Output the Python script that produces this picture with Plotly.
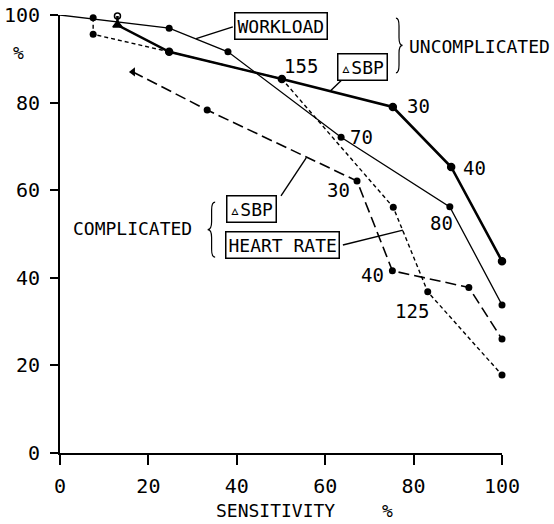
import plotly.graph_objects as go

# Sensitivity (x) vs specificity (y) for the exercise-test criteria
workload_unc_x = [0, 24.7, 38.0, 63.6, 88.2, 100]
workload_unc_y = [100, 97.0, 91.6, 72.1, 56.2, 33.8]

sbp_unc_x = [13.0, 13.0, 24.7, 50.2, 75.3, 88.5, 100]
sbp_unc_y = [99.8, 97.7, 91.6, 85.4, 79.0, 65.3, 43.8]

hr_comp_x = [7.5, 7.5, 24.7, 50.2, 75.4, 83.2, 100]
hr_comp_y = [99.4, 95.6, 91.6, 85.4, 56.1, 36.8, 17.8]

sbp_comp_x = [16.5, 33.3, 67.2, 75.2, 92.5, 100]
sbp_comp_y = [87.0, 78.3, 62.1, 41.6, 37.8, 26.0]

# Threshold labels beside points: (text, x, y)
point_labels = [
    ("155", 54.5, 88.4),
    ("30", 81.0, 79.2),
    ("40", 93.7, 65.1),
    ("70", 68.3, 72.1),
    ("80", 86.2, 52.5),
    ("30", 63.1, 60.0),
    ("40", 70.6, 40.6),
    ("125", 79.6, 32.4),
]

# Boxed series names: (text, x, y)
box_labels = [
    ("WORKLOAD", 49.9, 97.4),
    ("▵SBP", 68.4, 88.1),
    ("▵SBP", 43.4, 55.6),
    ("HEART RATE", 50.3, 47.6),
]

# Leader lines from boxes to curves: (x0, y0, x1, y1)
leaders = [
    (39.1, 97.3, 30.8, 94.6),
    (63.8, 85.2, 61.1, 82.6),
    (50.0, 58.7, 55.7, 67.4),
    (64.0, 47.5, 77.6, 50.9),
]

x_ticks = [0, 20, 40, 60, 80, 100]
y_ticks = [0, 20, 40, 60, 80, 100]

FONT = "DejaVu Sans Mono"
INK = "#000000"
DOT = 7

fig = go.Figure()

fig.add_trace(go.Scatter(
    x=workload_unc_x, y=workload_unc_y, mode="lines+markers",
    line=dict(color=INK, width=1.3),
    marker=dict(color=INK, opacity=1, size=[0] + [DOT] * 5, line=dict(width=0)),
    cliponaxis=False, hoverinfo="skip",
))
fig.add_trace(go.Scatter(
    x=sbp_unc_x, y=sbp_unc_y, mode="lines+markers",
    line=dict(color=INK, width=2.6),
    marker=dict(color=INK, opacity=1, size=[6, 8] + [DOT] * 5,
                symbol=["circle-open", "triangle-up", "circle", "circle",
                        "circle", "circle", "circle"],
                line=dict(color=INK, width=1.5)),
    cliponaxis=False, hoverinfo="skip",
))
fig.add_trace(go.Scatter(
    x=hr_comp_x, y=hr_comp_y, mode="lines+markers",
    line=dict(color=INK, width=1.4, dash="4px,3px"),
    marker=dict(color=INK, opacity=1, size=DOT, line=dict(width=0)),
    cliponaxis=False, hoverinfo="skip",
))
fig.add_trace(go.Scatter(
    x=sbp_comp_x, y=sbp_comp_y, mode="lines+markers",
    line=dict(color=INK, width=1.6, dash="11px,5px"),
    marker=dict(color=INK, opacity=1, size=[8] + [DOT] * 5, line=dict(width=0),
                symbol=["triangle-left", "circle", "circle", "circle",
                        "circle", "circle"]),
    cliponaxis=False, hoverinfo="skip",
))

annotations = []
for txt, x, y in point_labels:
    annotations.append(dict(x=x, y=y, xref="x", yref="y", text=txt,
                            showarrow=False, font=dict(family=FONT, size=19, color=INK),
                            xanchor="center", yanchor="middle"))
for txt, x, y in box_labels:
    annotations.append(dict(x=x, y=y, xref="x", yref="y", text=txt,
                            showarrow=False, font=dict(family=FONT, size=18, color=INK),
                            xanchor="center", yanchor="middle",
                            bordercolor=INK, borderwidth=1.5, borderpad=2,
                            bgcolor="white"))
annotations.append(dict(x=78.4, y=92.7, xref="x", yref="y", text="UNCOMPLICATED",
                        showarrow=False, font=dict(family=FONT, size=18, color=INK),
                        xanchor="left", yanchor="middle"))
annotations.append(dict(x=30.4, y=51.2, xref="x", yref="y", text="COMPLICATED",
                        showarrow=False, font=dict(family=FONT, size=18, color=INK),
                        xanchor="right", yanchor="middle"))
annotations.append(dict(x=-0.095, y=91.5, xref="paper", yref="y", text="%",
                        showarrow=False, font=dict(family=FONT, size=18, color=INK),
                        xanchor="center", yanchor="middle"))
annotations.append(dict(x=48.8, y=-0.132, xref="x", yref="paper", text="SENSITIVITY",
                        showarrow=False, font=dict(family=FONT, size=18, color=INK),
                        xanchor="center", yanchor="middle"))
annotations.append(dict(x=74.2, y=-0.132, xref="x", yref="paper", text="%",
                        showarrow=False, font=dict(family=FONT, size=18, color=INK),
                        xanchor="center", yanchor="middle"))


def brace_path(x_edge, x_mid, x_tip, y_top, y_bot, dy=1.8):
    """Curly brace from y_top to y_bot, its spine at x_mid, pointing to x_tip."""
    yc = (y_top + y_bot) / 2
    return (f"M {x_edge},{y_top} Q {x_mid},{y_top} {x_mid},{y_top - dy} "
            f"L {x_mid},{yc + dy} Q {x_mid},{yc} {x_tip},{yc} "
            f"Q {x_mid},{yc} {x_mid},{yc - dy} "
            f"L {x_mid},{y_bot + dy} Q {x_mid},{y_bot} {x_edge},{y_bot}")


shapes = []
for x0, y0, x1, y1 in leaders:
    shapes.append(dict(type="line", xref="x", yref="y", x0=x0, y0=y0, x1=x1, y1=y1,
                       line=dict(color=INK, width=1.4)))
shapes.append(dict(type="path", xref="x", yref="y",
                   path=brace_path(76.0, 76.7, 77.5, 99.3, 86.8),
                   line=dict(color=INK, width=1.2)))
shapes.append(dict(type="path", xref="x", yref="y",
                   path=brace_path(35.1, 34.3, 33.4, 57.3, 44.7),
                   line=dict(color=INK, width=1.2)))

fig.update_layout(
    width=554, height=524,
    margin=dict(l=60, r=52, t=15, b=71, autoexpand=False),
    paper_bgcolor="white", plot_bgcolor="white",
    showlegend=False,
    annotations=annotations,
    shapes=shapes,
    xaxis=dict(range=[0, 100], tickvals=x_ticks, ticktext=[str(v) for v in x_ticks],
               automargin=False,
               showgrid=False, zeroline=False, showline=True, linecolor=INK, linewidth=2,
               ticks="outside", ticklen=10, tickwidth=2, tickcolor=INK,
               ticklabelstandoff=4,
               tickfont=dict(family=FONT, size=20, color=INK)),
    yaxis=dict(range=[0, 100], tickvals=y_ticks, ticktext=[str(v) for v in y_ticks],
               automargin=False,
               showgrid=False, zeroline=False, showline=True, linecolor=INK, linewidth=2,
               ticks="outside", ticklen=8, tickwidth=2, tickcolor=INK,
               ticklabelstandoff=6,
               tickfont=dict(family=FONT, size=20, color=INK)),
)

fig.write_html("out.html")
